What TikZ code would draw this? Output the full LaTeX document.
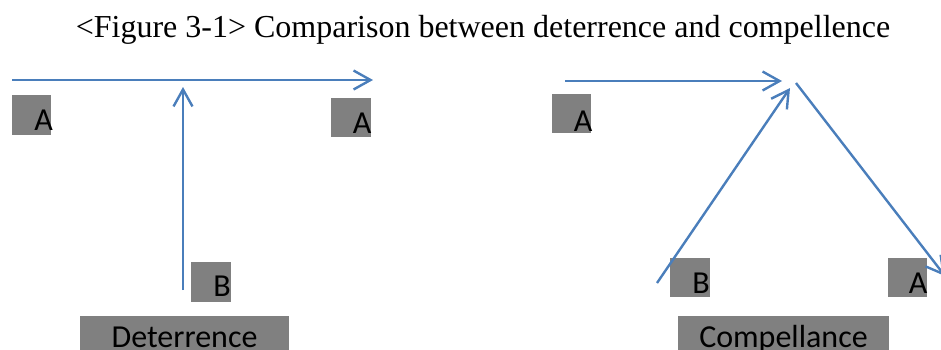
\documentclass[tikz,border=0pt]{standalone}
\usepackage{fontspec}
\setmainfont{Liberation Serif}
\newfontfamily\calib{Carlito}
\usetikzlibrary{arrows.meta}
\definecolor{arrowblue}{RGB}{74,126,187}
\definecolor{boxgray}{RGB}{128,128,128}
\tikzset{
  conn/.style={draw=arrowblue, line width=2.4pt},
  arr/.style={conn, -{Straight Barb[length=17pt,width=19pt]}},
  graybox/.style={rectangle, fill=boxgray, inner sep=0pt, outer sep=0pt},
  lbl/.style={inner sep=0pt, font=\calib\fontsize{32}{36}\selectfont, text=black},
}
\begin{document}
\begin{tikzpicture}[x=1pt,y=-1pt]
\useasboundingbox (0,0) rectangle (941,349);
\clip (0,0) rectangle (941,349);
\node[inner sep=0pt, anchor=base, font=\fontsize{32}{38}\selectfont] (title) at (483,37) {<Figure 3-1> Comparison between deterrence and compellence};

% boxes
\node[graybox, minimum width=39pt, minimum height=40pt] (a1box) at (31.5,115) {};
\node[graybox, minimum width=40pt, minimum height=39pt] (a2box) at (351,117.5) {};
\node[graybox, minimum width=40pt, minimum height=40pt] (b1box) at (211,282) {};
\node[graybox, minimum width=209pt, minimum height=36pt] (detbox) at (184.5,334) {};
\node[graybox, minimum width=39pt, minimum height=39pt] (a3box) at (571.5,113.5) {};
\node[graybox, minimum width=40pt, minimum height=39pt] (b2box) at (690,277.5) {};
\node[graybox, minimum width=39pt, minimum height=39pt] (a4box) at (907.5,277.5) {};
\node[graybox, minimum width=211pt, minimum height=36pt] (compbox) at (783.5,334) {};

% labels
\node[lbl, anchor=base east] (a1) at (53,130) {A};
\node[lbl, anchor=base east] (a2) at (371.5,133) {A};
\node[lbl, anchor=base east] (b1) at (231,296) {B};
\node[lbl, anchor=base] (det) at (184.5,347) {Deterrence};
\node[lbl, anchor=base east] (a3) at (592.5,131) {A};
\node[lbl, anchor=base east] (b2) at (710,293) {B};
\node[lbl, anchor=base east] (a4) at (927.5,293) {A};
\node[lbl, anchor=base] (comp) at (783.5,347) {Compellance};

% connector endpoints
\coordinate (h1s) at (12,80);
\coordinate (h1e) at (373,80);
\coordinate (v1s) at (183,290);
\coordinate (v1e) at (183,87);
\coordinate (h2s) at (565,81);
\coordinate (h2e) at (782,81);
\coordinate (b2s) at (657,283);
\coordinate (b2e) at (790,88);
\coordinate (d2s) at (796,83);
\coordinate (d2e) at (945,276);

\draw[arr] (h1s) -- (h1e);
\draw[arr] (v1s) -- (v1e);
\draw[arr] (h2s) -- (h2e);
\draw[arr] (b2s) -- (b2e);
\draw[arr] (d2s) -- (d2e);
\end{tikzpicture}
\end{document}
